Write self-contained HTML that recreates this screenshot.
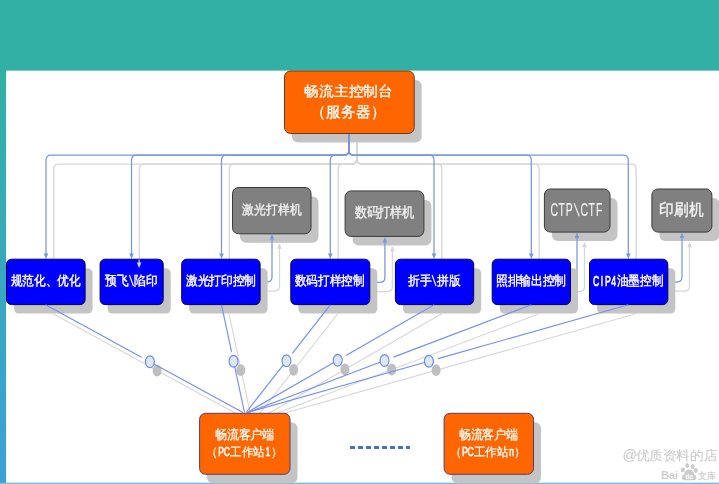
<!DOCTYPE html>
<html><head><meta charset="utf-8"><style>
html,body{margin:0;padding:0;width:719px;height:484px;overflow:hidden;background:#fff}
svg text{font-family:"Liberation Sans",sans-serif}
svg{will-change:transform;filter:blur(0.3px)}
</style></head><body>
<svg width="719" height="484" viewBox="0 0 719 484" style="position:absolute;left:0;top:0">
<defs><linearGradient id="lg" x1="0" y1="0" x2="0" y2="1"><stop offset="0" stop-color="#33b0a5"/><stop offset="1" stop-color="#3ca0d7"/></linearGradient></defs>
<rect x="0" y="0" width="719" height="484" fill="#ffffff"/>
<rect x="0" y="0" width="719" height="70.6" fill="#33b0a5"/>
<rect x="0" y="70" width="6.1" height="414" fill="url(#lg)"/>
<rect x="0" y="482.6" width="719" height="1.4" fill="#7cbde2"/>
<rect x="240.00" y="196.50" width="78.50" height="46.30" rx="6" fill="#c4c4c4"/>
<rect x="232.50" y="187.50" width="78.50" height="46.30" rx="6" fill="#808080" stroke="#3a3a3a" stroke-width="1"/>
<rect x="352.60" y="199.90" width="78.80" height="45.50" rx="6" fill="#c4c4c4"/>
<rect x="345.10" y="190.90" width="78.80" height="45.50" rx="6" fill="#808080" stroke="#3a3a3a" stroke-width="1"/>
<rect x="551.90" y="198.00" width="65.60" height="43.10" rx="6" fill="#c4c4c4"/>
<rect x="544.40" y="189.00" width="65.60" height="43.10" rx="6" fill="#808080" stroke="#3a3a3a" stroke-width="1"/>
<rect x="659.40" y="198.00" width="60.00" height="43.10" rx="6" fill="#c4c4c4"/>
<rect x="651.90" y="189.00" width="60.00" height="43.10" rx="6" fill="#808080" stroke="#3a3a3a" stroke-width="1"/>
<text transform="matrix(0.8471,0,0,0.9338,247.98,214.09)" text-anchor="middle" font-size="14" font-weight="normal" fill="#f2f2f2" stroke="#f2f2f2" stroke-width="0.35">激</text>
<text transform="matrix(0.8471,0,0,0.9338,259.84,214.09)" text-anchor="middle" font-size="14" font-weight="normal" fill="#f2f2f2" stroke="#f2f2f2" stroke-width="0.35">光</text>
<text transform="matrix(0.8471,0,0,0.9338,271.70,214.09)" text-anchor="middle" font-size="14" font-weight="normal" fill="#f2f2f2" stroke="#f2f2f2" stroke-width="0.35">打</text>
<text transform="matrix(0.8471,0,0,0.9338,283.56,214.09)" text-anchor="middle" font-size="14" font-weight="normal" fill="#f2f2f2" stroke="#f2f2f2" stroke-width="0.35">样</text>
<text transform="matrix(0.8471,0,0,0.9338,295.42,214.09)" text-anchor="middle" font-size="14" font-weight="normal" fill="#f2f2f2" stroke="#f2f2f2" stroke-width="0.35">机</text>
<text transform="matrix(0.8471,0,0,0.9776,360.78,217.29)" text-anchor="middle" font-size="14" font-weight="normal" fill="#f2f2f2" stroke="#f2f2f2" stroke-width="0.35">数</text>
<text transform="matrix(0.8471,0,0,0.9776,372.64,217.29)" text-anchor="middle" font-size="14" font-weight="normal" fill="#f2f2f2" stroke="#f2f2f2" stroke-width="0.35">码</text>
<text transform="matrix(0.8471,0,0,0.9776,384.50,217.29)" text-anchor="middle" font-size="14" font-weight="normal" fill="#f2f2f2" stroke="#f2f2f2" stroke-width="0.35">打</text>
<text transform="matrix(0.8471,0,0,0.9776,396.36,217.29)" text-anchor="middle" font-size="14" font-weight="normal" fill="#f2f2f2" stroke="#f2f2f2" stroke-width="0.35">样</text>
<text transform="matrix(0.8471,0,0,0.9776,408.22,217.29)" text-anchor="middle" font-size="14" font-weight="normal" fill="#f2f2f2" stroke="#f2f2f2" stroke-width="0.35">机</text>
<text transform="matrix(0.7416,0,0,1.2574,554.15,216.05)" text-anchor="middle" font-size="14" font-weight="normal" fill="#f2f2f2" stroke="#f2f2f2" stroke-width="0.1">C</text>
<text transform="matrix(0.7416,0,0,1.2574,561.65,216.05)" text-anchor="middle" font-size="14" font-weight="normal" fill="#f2f2f2" stroke="#f2f2f2" stroke-width="0.1">T</text>
<text transform="matrix(0.7416,0,0,1.2574,569.15,216.05)" text-anchor="middle" font-size="14" font-weight="normal" fill="#f2f2f2" stroke="#f2f2f2" stroke-width="0.1">P</text>
<line x1="574.10" y1="203.10" x2="579.20" y2="216.25" stroke="#f2f2f2" stroke-width="1.15"/>
<text transform="matrix(0.7416,0,0,1.2574,584.15,216.05)" text-anchor="middle" font-size="14" font-weight="normal" fill="#f2f2f2" stroke="#f2f2f2" stroke-width="0.1">C</text>
<text transform="matrix(0.7416,0,0,1.2574,591.65,216.05)" text-anchor="middle" font-size="14" font-weight="normal" fill="#f2f2f2" stroke="#f2f2f2" stroke-width="0.1">T</text>
<text transform="matrix(0.7416,0,0,1.2574,599.15,216.05)" text-anchor="middle" font-size="14" font-weight="normal" fill="#f2f2f2" stroke="#f2f2f2" stroke-width="0.1">F</text>
<text transform="matrix(1.0714,0,0,1.1691,666.60,215.41)" text-anchor="middle" font-size="14" font-weight="normal" fill="#f2f2f2" stroke="#f2f2f2" stroke-width="0.35">印</text>
<text transform="matrix(1.0714,0,0,1.1691,681.60,215.41)" text-anchor="middle" font-size="14" font-weight="normal" fill="#f2f2f2" stroke="#f2f2f2" stroke-width="0.35">刷</text>
<text transform="matrix(1.0714,0,0,1.1691,696.60,215.41)" text-anchor="middle" font-size="14" font-weight="normal" fill="#f2f2f2" stroke="#f2f2f2" stroke-width="0.35">机</text>
<rect x="292.0" y="80" width="129.7" height="62.5" rx="6" fill="#c4c4c4"/>
<path d="M356.70,142.40 L356.70,159.10 Q356.70,164.10 351.70,164.10 L58.80,164.10 Q53.80,164.10 53.80,169.10 L53.80,263.90" fill="none" stroke="#d6d6d6" stroke-width="1.3"/>
<path d="M53.80,267.90 L51.50,262.40 L56.10,262.40 z" fill="#d6d6d6"/>
<path d="M356.70,142.40 L356.70,159.10 Q356.70,164.10 351.70,164.10 L144.30,164.10 Q139.30,164.10 139.30,169.10 L139.30,263.90" fill="none" stroke="#d6d6d6" stroke-width="1.3"/>
<path d="M139.30,267.90 L137.00,262.40 L141.60,262.40 z" fill="#d6d6d6"/>
<path d="M356.70,142.40 L356.70,159.10 Q356.70,164.10 351.70,164.10 L234.30,164.10 Q229.30,164.10 229.30,169.10 L229.30,263.90" fill="none" stroke="#d6d6d6" stroke-width="1.3"/>
<path d="M229.30,267.90 L227.00,262.40 L231.60,262.40 z" fill="#d6d6d6"/>
<path d="M356.70,142.40 L356.70,159.10 Q356.70,164.10 351.70,164.10 L343.10,164.10 Q338.10,164.10 338.10,169.10 L338.10,263.90" fill="none" stroke="#d6d6d6" stroke-width="1.3"/>
<path d="M338.10,267.90 L335.80,262.40 L340.40,262.40 z" fill="#d6d6d6"/>
<path d="M356.70,142.40 L356.70,159.10 Q356.70,164.10 361.70,164.10 L436.80,164.10 Q441.80,164.10 441.80,169.10 L441.80,263.90" fill="none" stroke="#d6d6d6" stroke-width="1.3"/>
<path d="M441.80,267.90 L439.50,262.40 L444.10,262.40 z" fill="#d6d6d6"/>
<path d="M356.70,142.40 L356.70,159.10 Q356.70,164.10 361.70,164.10 L534.10,164.10 Q539.10,164.10 539.10,169.10 L539.10,263.90" fill="none" stroke="#d6d6d6" stroke-width="1.3"/>
<path d="M539.10,267.90 L536.80,262.40 L541.40,262.40 z" fill="#d6d6d6"/>
<path d="M356.70,142.40 L356.70,159.10 Q356.70,164.10 361.70,164.10 L631.10,164.10 Q636.10,164.10 636.10,169.10 L636.10,263.90" fill="none" stroke="#d6d6d6" stroke-width="1.3"/>
<path d="M636.10,267.90 L633.80,262.40 L638.40,262.40 z" fill="#d6d6d6"/>
<path d="M267.50,291.10 L274.50,291.10 Q279.50,291.10 279.50,286.10 L279.50,247.20" fill="none" stroke="#d6d6d6" stroke-width="1.3"/>
<path d="M279.50,243.20 L277.20,248.70 L281.80,248.70 z" fill="#d6d6d6"/>
<path d="M377.00,291.60 L387.40,291.60 Q392.40,291.60 392.40,286.60 L392.40,250.10" fill="none" stroke="#d6d6d6" stroke-width="1.3"/>
<path d="M392.40,246.10 L390.10,251.60 L394.70,251.60 z" fill="#d6d6d6"/>
<path d="M577.90,291.60 L579.50,291.60 Q584.50,291.60 584.50,286.60 L584.50,245.80" fill="none" stroke="#d6d6d6" stroke-width="1.3"/>
<path d="M584.50,241.80 L582.20,247.30 L586.80,247.30 z" fill="#d6d6d6"/>
<path d="M675.00,291.20 L684.50,291.20 Q689.50,291.20 689.50,286.20 L689.50,245.80" fill="none" stroke="#d6d6d6" stroke-width="1.3"/>
<path d="M689.50,241.80 L687.20,247.30 L691.80,247.30 z" fill="#d6d6d6"/>
<line x1="53.10" y1="313.80" x2="250.50" y2="421.50" stroke="#d6d6d6" stroke-width="1.05"/>
<line x1="229.00" y1="313.80" x2="252.00" y2="421.50" stroke="#d6d6d6" stroke-width="1.05"/>
<line x1="337.80" y1="313.80" x2="253.50" y2="421.50" stroke="#d6d6d6" stroke-width="1.05"/>
<line x1="441.70" y1="313.80" x2="254.50" y2="421.50" stroke="#d6d6d6" stroke-width="1.05"/>
<line x1="538.80" y1="313.80" x2="255.00" y2="421.50" stroke="#d6d6d6" stroke-width="1.05"/>
<line x1="635.80" y1="313.80" x2="255.00" y2="421.50" stroke="#d6d6d6" stroke-width="1.05"/>
<ellipse cx="157.09" cy="370.70" rx="4.5" ry="5.9" fill="#bfbfbf"/>
<ellipse cx="240.74" cy="370.20" rx="4.5" ry="5.9" fill="#bfbfbf"/>
<ellipse cx="293.67" cy="369.80" rx="4.5" ry="5.9" fill="#bfbfbf"/>
<ellipse cx="344.93" cy="369.30" rx="4.5" ry="5.9" fill="#bfbfbf"/>
<ellipse cx="391.73" cy="369.50" rx="4.5" ry="5.9" fill="#bfbfbf"/>
<ellipse cx="436.08" cy="370.20" rx="4.5" ry="5.9" fill="#bfbfbf"/>
<path d="M348.90,133.50 L348.90,150.20 Q348.90,155.20 343.90,155.20 L51.00,155.20 Q46.00,155.20 46.00,160.20 L46.00,255.00" fill="none" stroke="#7898d8" stroke-width="1.25"/>
<path d="M46.00,259.00 L43.70,253.50 L48.30,253.50 z" fill="#7898d8"/>
<path d="M348.90,133.50 L348.90,150.20 Q348.90,155.20 343.90,155.20 L136.50,155.20 Q131.50,155.20 131.50,160.20 L131.50,255.00" fill="none" stroke="#7898d8" stroke-width="1.25"/>
<path d="M131.50,259.00 L129.20,253.50 L133.80,253.50 z" fill="#7898d8"/>
<path d="M348.90,133.50 L348.90,150.20 Q348.90,155.20 343.90,155.20 L226.50,155.20 Q221.50,155.20 221.50,160.20 L221.50,255.00" fill="none" stroke="#7898d8" stroke-width="1.25"/>
<path d="M221.50,259.00 L219.20,253.50 L223.80,253.50 z" fill="#7898d8"/>
<path d="M348.90,133.50 L348.90,150.20 Q348.90,155.20 343.90,155.20 L335.30,155.20 Q330.30,155.20 330.30,160.20 L330.30,255.00" fill="none" stroke="#7898d8" stroke-width="1.25"/>
<path d="M330.30,259.00 L328.00,253.50 L332.60,253.50 z" fill="#7898d8"/>
<path d="M348.90,133.50 L348.90,150.20 Q348.90,155.20 353.90,155.20 L429.00,155.20 Q434.00,155.20 434.00,160.20 L434.00,255.00" fill="none" stroke="#7898d8" stroke-width="1.25"/>
<path d="M434.00,259.00 L431.70,253.50 L436.30,253.50 z" fill="#7898d8"/>
<path d="M348.90,133.50 L348.90,150.20 Q348.90,155.20 353.90,155.20 L526.30,155.20 Q531.30,155.20 531.30,160.20 L531.30,255.00" fill="none" stroke="#7898d8" stroke-width="1.25"/>
<path d="M531.30,259.00 L529.00,253.50 L533.60,253.50 z" fill="#7898d8"/>
<path d="M348.90,133.50 L348.90,150.20 Q348.90,155.20 353.90,155.20 L623.30,155.20 Q628.30,155.20 628.30,160.20 L628.30,255.00" fill="none" stroke="#7898d8" stroke-width="1.25"/>
<path d="M628.30,259.00 L626.00,253.50 L630.60,253.50 z" fill="#7898d8"/>
<path d="M260.00,281.90 L267.00,281.90 Q272.00,281.90 272.00,276.90 L272.00,238.00" fill="none" stroke="#7898d8" stroke-width="1.25"/>
<path d="M272.00,234.00 L269.70,239.50 L274.30,239.50 z" fill="#7898d8"/>
<path d="M369.50,282.40 L379.90,282.40 Q384.90,282.40 384.90,277.40 L384.90,240.90" fill="none" stroke="#7898d8" stroke-width="1.25"/>
<path d="M384.90,236.90 L382.60,242.40 L387.20,242.40 z" fill="#7898d8"/>
<path d="M570.40,282.40 L572.00,282.40 Q577.00,282.40 577.00,277.40 L577.00,236.60" fill="none" stroke="#7898d8" stroke-width="1.25"/>
<path d="M577.00,232.60 L574.70,238.10 L579.30,238.10 z" fill="#7898d8"/>
<path d="M667.50,282.00 L677.00,282.00 Q682.00,282.00 682.00,277.00 L682.00,236.60" fill="none" stroke="#7898d8" stroke-width="1.25"/>
<path d="M682.00,232.60 L679.70,238.10 L684.30,238.10 z" fill="#7898d8"/>
<rect x="284.50" y="71.00" width="129.70" height="62.50" rx="6" fill="#ff6600" stroke="#6b3a20" stroke-width="1"/>
<text transform="matrix(1.0571,0,0,1.0072,311.45,95.89)" text-anchor="middle" font-size="14" font-weight="normal" fill="#ffffff" stroke="#ffffff" stroke-width="0.3">畅</text>
<text transform="matrix(1.0571,0,0,1.0072,326.25,95.89)" text-anchor="middle" font-size="14" font-weight="normal" fill="#ffffff" stroke="#ffffff" stroke-width="0.3">流</text>
<text transform="matrix(1.0571,0,0,1.0072,341.05,95.89)" text-anchor="middle" font-size="14" font-weight="normal" fill="#ffffff" stroke="#ffffff" stroke-width="0.3">主</text>
<text transform="matrix(1.0571,0,0,1.0072,355.85,95.89)" text-anchor="middle" font-size="14" font-weight="normal" fill="#ffffff" stroke="#ffffff" stroke-width="0.3">控</text>
<text transform="matrix(1.0571,0,0,1.0072,370.65,95.89)" text-anchor="middle" font-size="14" font-weight="normal" fill="#ffffff" stroke="#ffffff" stroke-width="0.3">制</text>
<text transform="matrix(1.0571,0,0,1.0072,385.45,95.89)" text-anchor="middle" font-size="14" font-weight="normal" fill="#ffffff" stroke="#ffffff" stroke-width="0.3">台</text>
<text transform="matrix(1.0571,0,0,1.0902,318.85,117.22)" text-anchor="middle" font-size="14" font-weight="normal" fill="#ffffff" stroke="#ffffff" stroke-width="0.3">（</text>
<text transform="matrix(1.0571,0,0,1.0902,333.65,117.22)" text-anchor="middle" font-size="14" font-weight="normal" fill="#ffffff" stroke="#ffffff" stroke-width="0.3">服</text>
<text transform="matrix(1.0571,0,0,1.0902,348.45,117.22)" text-anchor="middle" font-size="14" font-weight="normal" fill="#ffffff" stroke="#ffffff" stroke-width="0.3">务</text>
<text transform="matrix(1.0571,0,0,1.0902,363.25,117.22)" text-anchor="middle" font-size="14" font-weight="normal" fill="#ffffff" stroke="#ffffff" stroke-width="0.3">器</text>
<text transform="matrix(1.0571,0,0,1.0902,378.05,117.22)" text-anchor="middle" font-size="14" font-weight="normal" fill="#ffffff" stroke="#ffffff" stroke-width="0.3">）</text>
<rect x="14.00" y="268.20" width="78.60" height="45.40" rx="5" fill="#c4c4c4"/>
<rect x="6.50" y="259.20" width="78.60" height="45.40" rx="5" fill="#0000ff" stroke="#000050" stroke-width="1"/>
<rect x="107.60" y="268.20" width="63.10" height="45.40" rx="5" fill="#c4c4c4"/>
<rect x="100.10" y="259.20" width="63.10" height="45.40" rx="5" fill="#0000ff" stroke="#000050" stroke-width="1"/>
<rect x="189.20" y="268.20" width="78.40" height="45.40" rx="5" fill="#c4c4c4"/>
<rect x="181.70" y="259.20" width="78.40" height="45.40" rx="5" fill="#0000ff" stroke="#000050" stroke-width="1"/>
<rect x="298.30" y="268.20" width="79.00" height="45.40" rx="5" fill="#c4c4c4"/>
<rect x="290.80" y="259.20" width="79.00" height="45.40" rx="5" fill="#0000ff" stroke="#000050" stroke-width="1"/>
<rect x="402.90" y="268.20" width="78.30" height="45.40" rx="5" fill="#c4c4c4"/>
<rect x="395.40" y="259.20" width="78.30" height="45.40" rx="5" fill="#0000ff" stroke="#000050" stroke-width="1"/>
<rect x="499.70" y="268.20" width="78.30" height="45.40" rx="5" fill="#c4c4c4"/>
<rect x="492.20" y="259.20" width="78.30" height="45.40" rx="5" fill="#0000ff" stroke="#000050" stroke-width="1"/>
<rect x="597.00" y="268.20" width="78.30" height="45.40" rx="5" fill="#c4c4c4"/>
<rect x="589.50" y="259.20" width="78.30" height="45.40" rx="5" fill="#0000ff" stroke="#000050" stroke-width="1"/>
<text transform="matrix(0.8357,0,0,0.9333,16.35,285.38)" text-anchor="middle" font-size="14" font-weight="normal" fill="#ffffff" stroke="#ffffff" stroke-width="0.45">规</text>
<text transform="matrix(0.8357,0,0,0.9333,28.05,285.38)" text-anchor="middle" font-size="14" font-weight="normal" fill="#ffffff" stroke="#ffffff" stroke-width="0.45">范</text>
<text transform="matrix(0.8357,0,0,0.9333,39.75,285.38)" text-anchor="middle" font-size="14" font-weight="normal" fill="#ffffff" stroke="#ffffff" stroke-width="0.45">化</text>
<text transform="matrix(0.8357,0,0,0.9333,51.45,285.38)" text-anchor="middle" font-size="14" font-weight="normal" fill="#ffffff" stroke="#ffffff" stroke-width="0.45">、</text>
<text transform="matrix(0.8357,0,0,0.9333,63.15,285.38)" text-anchor="middle" font-size="14" font-weight="normal" fill="#ffffff" stroke="#ffffff" stroke-width="0.45">优</text>
<text transform="matrix(0.8357,0,0,0.9333,74.85,285.38)" text-anchor="middle" font-size="14" font-weight="normal" fill="#ffffff" stroke="#ffffff" stroke-width="0.45">化</text>
<text transform="matrix(0.8357,0,0,0.9265,110.92,285.40)" text-anchor="middle" font-size="14" font-weight="normal" fill="#ffffff" stroke="#ffffff" stroke-width="0.45">预</text>
<text transform="matrix(0.8357,0,0,0.9265,122.62,285.40)" text-anchor="middle" font-size="14" font-weight="normal" fill="#ffffff" stroke="#ffffff" stroke-width="0.45">飞</text>
<line x1="129.41" y1="274.95" x2="133.39" y2="286.05" stroke="#ffffff" stroke-width="1.15"/>
<text transform="matrix(0.8357,0,0,0.9265,140.17,285.40)" text-anchor="middle" font-size="14" font-weight="normal" fill="#ffffff" stroke="#ffffff" stroke-width="0.45">陷</text>
<text transform="matrix(0.8357,0,0,0.9265,151.87,285.40)" text-anchor="middle" font-size="14" font-weight="normal" fill="#ffffff" stroke="#ffffff" stroke-width="0.45">印</text>
<text transform="matrix(0.8357,0,0,0.9197,191.65,285.32)" text-anchor="middle" font-size="14" font-weight="normal" fill="#ffffff" stroke="#ffffff" stroke-width="0.45">激</text>
<text transform="matrix(0.8357,0,0,0.9197,203.35,285.32)" text-anchor="middle" font-size="14" font-weight="normal" fill="#ffffff" stroke="#ffffff" stroke-width="0.45">光</text>
<text transform="matrix(0.8357,0,0,0.9197,215.05,285.32)" text-anchor="middle" font-size="14" font-weight="normal" fill="#ffffff" stroke="#ffffff" stroke-width="0.45">打</text>
<text transform="matrix(0.8357,0,0,0.9197,226.75,285.32)" text-anchor="middle" font-size="14" font-weight="normal" fill="#ffffff" stroke="#ffffff" stroke-width="0.45">印</text>
<text transform="matrix(0.8357,0,0,0.9197,238.45,285.32)" text-anchor="middle" font-size="14" font-weight="normal" fill="#ffffff" stroke="#ffffff" stroke-width="0.45">控</text>
<text transform="matrix(0.8357,0,0,0.9197,250.15,285.32)" text-anchor="middle" font-size="14" font-weight="normal" fill="#ffffff" stroke="#ffffff" stroke-width="0.45">制</text>
<text transform="matrix(0.8357,0,0,0.9333,300.25,285.38)" text-anchor="middle" font-size="14" font-weight="normal" fill="#ffffff" stroke="#ffffff" stroke-width="0.45">数</text>
<text transform="matrix(0.8357,0,0,0.9333,311.95,285.38)" text-anchor="middle" font-size="14" font-weight="normal" fill="#ffffff" stroke="#ffffff" stroke-width="0.45">码</text>
<text transform="matrix(0.8357,0,0,0.9333,323.65,285.38)" text-anchor="middle" font-size="14" font-weight="normal" fill="#ffffff" stroke="#ffffff" stroke-width="0.45">打</text>
<text transform="matrix(0.8357,0,0,0.9333,335.35,285.38)" text-anchor="middle" font-size="14" font-weight="normal" fill="#ffffff" stroke="#ffffff" stroke-width="0.45">样</text>
<text transform="matrix(0.8357,0,0,0.9333,347.05,285.38)" text-anchor="middle" font-size="14" font-weight="normal" fill="#ffffff" stroke="#ffffff" stroke-width="0.45">控</text>
<text transform="matrix(0.8357,0,0,0.9333,358.75,285.38)" text-anchor="middle" font-size="14" font-weight="normal" fill="#ffffff" stroke="#ffffff" stroke-width="0.45">制</text>
<text transform="matrix(0.8357,0,0,0.9265,413.58,285.49)" text-anchor="middle" font-size="14" font-weight="normal" fill="#ffffff" stroke="#ffffff" stroke-width="0.45">折</text>
<text transform="matrix(0.8357,0,0,0.9265,425.28,285.49)" text-anchor="middle" font-size="14" font-weight="normal" fill="#ffffff" stroke="#ffffff" stroke-width="0.45">手</text>
<line x1="432.06" y1="274.95" x2="436.04" y2="286.05" stroke="#ffffff" stroke-width="1.15"/>
<text transform="matrix(0.8357,0,0,0.9265,442.83,285.49)" text-anchor="middle" font-size="14" font-weight="normal" fill="#ffffff" stroke="#ffffff" stroke-width="0.45">拼</text>
<text transform="matrix(0.8357,0,0,0.9265,454.53,285.49)" text-anchor="middle" font-size="14" font-weight="normal" fill="#ffffff" stroke="#ffffff" stroke-width="0.45">版</text>
<text transform="matrix(0.8357,0,0,0.9130,501.65,285.15)" text-anchor="middle" font-size="14" font-weight="normal" fill="#ffffff" stroke="#ffffff" stroke-width="0.45">照</text>
<text transform="matrix(0.8357,0,0,0.9130,513.35,285.15)" text-anchor="middle" font-size="14" font-weight="normal" fill="#ffffff" stroke="#ffffff" stroke-width="0.45">排</text>
<text transform="matrix(0.8357,0,0,0.9130,525.05,285.15)" text-anchor="middle" font-size="14" font-weight="normal" fill="#ffffff" stroke="#ffffff" stroke-width="0.45">输</text>
<text transform="matrix(0.8357,0,0,0.9130,536.75,285.15)" text-anchor="middle" font-size="14" font-weight="normal" fill="#ffffff" stroke="#ffffff" stroke-width="0.45">出</text>
<text transform="matrix(0.8357,0,0,0.9130,548.45,285.15)" text-anchor="middle" font-size="14" font-weight="normal" fill="#ffffff" stroke="#ffffff" stroke-width="0.45">控</text>
<text transform="matrix(0.8357,0,0,0.9130,560.15,285.15)" text-anchor="middle" font-size="14" font-weight="normal" fill="#ffffff" stroke="#ffffff" stroke-width="0.45">制</text>
<text transform="matrix(0.6179,0,0,0.9900,596.12,285.85)" text-anchor="middle" font-size="14" font-weight="normal" fill="#ffffff" stroke="#ffffff" stroke-width="0.7">C</text>
<text transform="matrix(0.6179,0,0,0.9900,601.97,285.85)" text-anchor="middle" font-size="14" font-weight="normal" fill="#ffffff" stroke="#ffffff" stroke-width="0.7">I</text>
<text transform="matrix(0.6179,0,0,0.9900,607.82,285.85)" text-anchor="middle" font-size="14" font-weight="normal" fill="#ffffff" stroke="#ffffff" stroke-width="0.7">P</text>
<text transform="matrix(0.6179,0,0,0.9900,613.67,285.85)" text-anchor="middle" font-size="14" font-weight="normal" fill="#ffffff" stroke="#ffffff" stroke-width="0.7">4</text>
<text transform="matrix(0.8357,0,0,0.9333,622.45,285.38)" text-anchor="middle" font-size="14" font-weight="normal" fill="#ffffff" stroke="#ffffff" stroke-width="0.45">油</text>
<text transform="matrix(0.8357,0,0,0.9333,634.15,285.38)" text-anchor="middle" font-size="14" font-weight="normal" fill="#ffffff" stroke="#ffffff" stroke-width="0.45">墨</text>
<text transform="matrix(0.8357,0,0,0.9333,645.85,285.38)" text-anchor="middle" font-size="14" font-weight="normal" fill="#ffffff" stroke="#ffffff" stroke-width="0.45">控</text>
<text transform="matrix(0.8357,0,0,0.9333,657.55,285.38)" text-anchor="middle" font-size="14" font-weight="normal" fill="#ffffff" stroke="#ffffff" stroke-width="0.45">制</text>
<line x1="45.60" y1="304.80" x2="141.55" y2="357.15" stroke="#7490f0" stroke-width="1.15"/>
<line x1="149.89" y1="361.70" x2="243.00" y2="412.50" stroke="#7490f0" stroke-width="1.15"/>
<line x1="221.50" y1="304.80" x2="231.56" y2="351.91" stroke="#7490f0" stroke-width="1.15"/>
<line x1="233.54" y1="361.20" x2="244.50" y2="412.50" stroke="#7490f0" stroke-width="1.15"/>
<line x1="330.30" y1="304.80" x2="292.32" y2="353.32" stroke="#7490f0" stroke-width="1.15"/>
<line x1="286.47" y1="360.80" x2="246.00" y2="412.50" stroke="#7490f0" stroke-width="1.15"/>
<line x1="434.20" y1="304.80" x2="345.97" y2="355.56" stroke="#7490f0" stroke-width="1.15"/>
<line x1="337.73" y1="360.30" x2="247.00" y2="412.50" stroke="#7490f0" stroke-width="1.15"/>
<line x1="531.30" y1="304.80" x2="393.41" y2="357.13" stroke="#7490f0" stroke-width="1.15"/>
<line x1="384.53" y1="360.50" x2="247.50" y2="412.50" stroke="#7490f0" stroke-width="1.15"/>
<line x1="628.30" y1="304.80" x2="438.03" y2="358.61" stroke="#7490f0" stroke-width="1.15"/>
<line x1="428.88" y1="361.20" x2="247.50" y2="412.50" stroke="#7490f0" stroke-width="1.15"/>
<ellipse cx="149.89" cy="361.70" rx="4.5" ry="5.9" fill="#dfe7f7" stroke="#6a8ee8" stroke-width="1.15"/>
<ellipse cx="233.54" cy="361.20" rx="4.5" ry="5.9" fill="#dfe7f7" stroke="#6a8ee8" stroke-width="1.15"/>
<ellipse cx="286.47" cy="360.80" rx="4.5" ry="5.9" fill="#dfe7f7" stroke="#6a8ee8" stroke-width="1.15"/>
<ellipse cx="337.73" cy="360.30" rx="4.5" ry="5.9" fill="#dfe7f7" stroke="#6a8ee8" stroke-width="1.15"/>
<ellipse cx="384.53" cy="360.50" rx="4.5" ry="5.9" fill="#dfe7f7" stroke="#6a8ee8" stroke-width="1.15"/>
<ellipse cx="428.88" cy="361.20" rx="4.5" ry="5.9" fill="#dfe7f7" stroke="#6a8ee8" stroke-width="1.15"/>
<line x1="139.1" y1="259.5" x2="139.1" y2="264" stroke="#d6d6d6" stroke-width="1.2"/>
<path d="M139.10,268.00 L136.80,262.50 L141.40,262.50 z" fill="#d8d8d8"/>
<rect x="207.10" y="422.30" width="90.40" height="61.00" rx="6" fill="#c4c4c4"/>
<rect x="199.60" y="413.30" width="90.40" height="61.00" rx="6" fill="#ff6600" stroke="#5a3a70" stroke-width="1"/>
<text transform="matrix(0.8357,0,0,0.8978,221.10,438.83)" text-anchor="middle" font-size="14" font-weight="normal" fill="#ffffff" stroke="#ffffff" stroke-width="0.3">畅</text>
<text transform="matrix(0.8357,0,0,0.8978,232.80,438.83)" text-anchor="middle" font-size="14" font-weight="normal" fill="#ffffff" stroke="#ffffff" stroke-width="0.3">流</text>
<text transform="matrix(0.8357,0,0,0.8978,244.50,438.83)" text-anchor="middle" font-size="14" font-weight="normal" fill="#ffffff" stroke="#ffffff" stroke-width="0.3">客</text>
<text transform="matrix(0.8357,0,0,0.8978,256.20,438.83)" text-anchor="middle" font-size="14" font-weight="normal" fill="#ffffff" stroke="#ffffff" stroke-width="0.3">户</text>
<text transform="matrix(0.8357,0,0,0.8978,267.90,438.83)" text-anchor="middle" font-size="14" font-weight="normal" fill="#ffffff" stroke="#ffffff" stroke-width="0.3">端</text>
<text transform="matrix(0.8357,0,0,0.8657,212.32,455.71)" text-anchor="middle" font-size="14" font-weight="normal" fill="#ffffff" stroke="#ffffff" stroke-width="0.3">（</text>
<text transform="matrix(0.6179,0,0,0.9706,221.10,456.15)" text-anchor="middle" font-size="14" font-weight="normal" fill="#ffffff" stroke="#ffffff" stroke-width="0.7">P</text>
<text transform="matrix(0.6179,0,0,0.9706,226.95,456.15)" text-anchor="middle" font-size="14" font-weight="normal" fill="#ffffff" stroke="#ffffff" stroke-width="0.7">C</text>
<text transform="matrix(0.8357,0,0,0.8657,235.72,455.71)" text-anchor="middle" font-size="14" font-weight="normal" fill="#ffffff" stroke="#ffffff" stroke-width="0.3">工</text>
<text transform="matrix(0.8357,0,0,0.8657,247.42,455.71)" text-anchor="middle" font-size="14" font-weight="normal" fill="#ffffff" stroke="#ffffff" stroke-width="0.3">作</text>
<text transform="matrix(0.8357,0,0,0.8657,259.12,455.71)" text-anchor="middle" font-size="14" font-weight="normal" fill="#ffffff" stroke="#ffffff" stroke-width="0.3">站</text>
<text transform="matrix(0.6179,0,0,0.9706,267.90,456.15)" text-anchor="middle" font-size="14" font-weight="normal" fill="#ffffff" stroke="#ffffff" stroke-width="0.7">1</text>
<text transform="matrix(0.8357,0,0,0.8657,276.68,455.71)" text-anchor="middle" font-size="14" font-weight="normal" fill="#ffffff" stroke="#ffffff" stroke-width="0.3">）</text>
<rect x="451.60" y="422.30" width="89.40" height="61.00" rx="6" fill="#c4c4c4"/>
<rect x="444.10" y="413.30" width="89.40" height="61.00" rx="6" fill="#ff6600" stroke="#5a3a70" stroke-width="1"/>
<text transform="matrix(0.8357,0,0,0.8978,464.80,438.83)" text-anchor="middle" font-size="14" font-weight="normal" fill="#ffffff" stroke="#ffffff" stroke-width="0.3">畅</text>
<text transform="matrix(0.8357,0,0,0.8978,476.50,438.83)" text-anchor="middle" font-size="14" font-weight="normal" fill="#ffffff" stroke="#ffffff" stroke-width="0.3">流</text>
<text transform="matrix(0.8357,0,0,0.8978,488.20,438.83)" text-anchor="middle" font-size="14" font-weight="normal" fill="#ffffff" stroke="#ffffff" stroke-width="0.3">客</text>
<text transform="matrix(0.8357,0,0,0.8978,499.90,438.83)" text-anchor="middle" font-size="14" font-weight="normal" fill="#ffffff" stroke="#ffffff" stroke-width="0.3">户</text>
<text transform="matrix(0.8357,0,0,0.8978,511.60,438.83)" text-anchor="middle" font-size="14" font-weight="normal" fill="#ffffff" stroke="#ffffff" stroke-width="0.3">端</text>
<text transform="matrix(0.8357,0,0,0.8657,456.03,455.71)" text-anchor="middle" font-size="14" font-weight="normal" fill="#ffffff" stroke="#ffffff" stroke-width="0.3">（</text>
<text transform="matrix(0.6179,0,0,0.9706,464.80,456.15)" text-anchor="middle" font-size="14" font-weight="normal" fill="#ffffff" stroke="#ffffff" stroke-width="0.7">P</text>
<text transform="matrix(0.6179,0,0,0.9706,470.65,456.15)" text-anchor="middle" font-size="14" font-weight="normal" fill="#ffffff" stroke="#ffffff" stroke-width="0.7">C</text>
<text transform="matrix(0.8357,0,0,0.8657,479.43,455.71)" text-anchor="middle" font-size="14" font-weight="normal" fill="#ffffff" stroke="#ffffff" stroke-width="0.3">工</text>
<text transform="matrix(0.8357,0,0,0.8657,491.13,455.71)" text-anchor="middle" font-size="14" font-weight="normal" fill="#ffffff" stroke="#ffffff" stroke-width="0.3">作</text>
<text transform="matrix(0.8357,0,0,0.8657,502.83,455.71)" text-anchor="middle" font-size="14" font-weight="normal" fill="#ffffff" stroke="#ffffff" stroke-width="0.3">站</text>
<text transform="matrix(0.6179,0,0,0.9706,511.60,456.15)" text-anchor="middle" font-size="14" font-weight="normal" fill="#ffffff" stroke="#ffffff" stroke-width="0.7">n</text>
<text transform="matrix(0.8357,0,0,0.8657,520.38,455.71)" text-anchor="middle" font-size="14" font-weight="normal" fill="#ffffff" stroke="#ffffff" stroke-width="0.3">）</text>
<line x1="350" y1="447.4" x2="410" y2="447.4" stroke="#4a72b8" stroke-width="3" stroke-dasharray="5 3"/>
<text transform="matrix(0.9714,0,0,0.9203,642.30,460.10)" text-anchor="middle" font-size="14" font-weight="normal" fill="#cbcbcb" stroke="#cbcbcb" stroke-width="0.1">优</text>
<text transform="matrix(0.9714,0,0,0.9203,655.90,460.10)" text-anchor="middle" font-size="14" font-weight="normal" fill="#cbcbcb" stroke="#cbcbcb" stroke-width="0.1">质</text>
<text transform="matrix(0.9714,0,0,0.9203,669.50,460.10)" text-anchor="middle" font-size="14" font-weight="normal" fill="#cbcbcb" stroke="#cbcbcb" stroke-width="0.1">资</text>
<text transform="matrix(0.9714,0,0,0.9203,683.10,460.10)" text-anchor="middle" font-size="14" font-weight="normal" fill="#cbcbcb" stroke="#cbcbcb" stroke-width="0.1">料</text>
<text transform="matrix(0.9714,0,0,0.9203,696.70,460.10)" text-anchor="middle" font-size="14" font-weight="normal" fill="#cbcbcb" stroke="#cbcbcb" stroke-width="0.1">的</text>
<text transform="matrix(0.9714,0,0,0.9203,710.30,460.10)" text-anchor="middle" font-size="14" font-weight="normal" fill="#cbcbcb" stroke="#cbcbcb" stroke-width="0.1">店</text>
<text transform="matrix(0.95,0,0,1.0,622.5,459.6)" font-size="15" fill="#cbcbcb" stroke="#cbcbcb" stroke-width="0.1">@</text>
<text transform="matrix(0.95,0,0,1,661,479.3)" font-size="11.6" font-weight="bold" fill="#cfcfcf">Bai</text>
<text transform="matrix(0.6571,0,0,0.6618,702.60,478.61)" text-anchor="middle" font-size="14" font-weight="normal" fill="#cfcfcf" stroke="#cfcfcf" stroke-width="0.5">文</text>
<text transform="matrix(0.6571,0,0,0.6618,711.80,478.61)" text-anchor="middle" font-size="14" font-weight="normal" fill="#cfcfcf" stroke="#cfcfcf" stroke-width="0.5">库</text>
<g fill="#cccccc"><path d="M684.5,480.2 C681.2,480.2 681,475.8 684,474.8 C684.8,471.2 687,469.6 689.2,469.6 C691.4,469.6 693.6,471.2 694.3,474.8 C697.3,475.8 697.1,480.2 693.8,480.2 Z"/><ellipse cx="682.9" cy="469.7" rx="2" ry="2.5"/><ellipse cx="687.2" cy="465.6" rx="1.9" ry="2.5"/><ellipse cx="692.6" cy="466.4" rx="2" ry="2.5"/><ellipse cx="695.8" cy="470.4" rx="2" ry="2.4"/></g>
<text transform="matrix(0.85,0,0,0.95,689.2,478.8)" font-size="7" fill="#ffffff" text-anchor="middle" font-weight="bold">du</text>
</svg>
</body></html>
